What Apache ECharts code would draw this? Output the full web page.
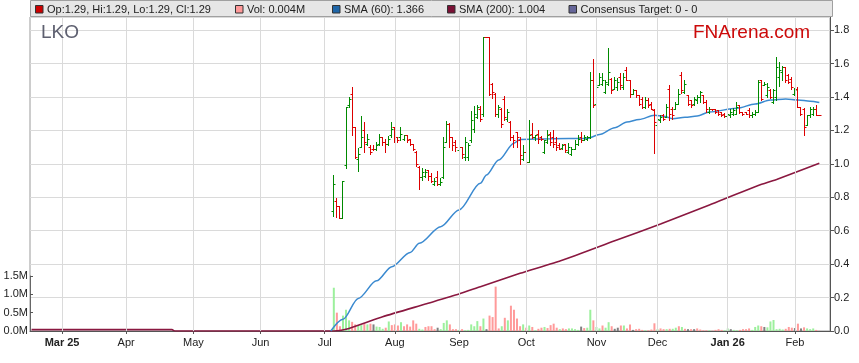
<!DOCTYPE html>
<html><head><meta charset="utf-8">
<script src="https://cdn.jsdelivr.net/npm/echarts@6.0.0/dist/echarts.min.js"></script>
<style>html,body{margin:0;padding:0;background:#fff}#c{width:859px;height:363px}</style>
</head><body><div id="c"></div>
<script>
// ---------- data ----------
const START_DATE = [2025, 1, 17];   // first weekday slot on the axis (17 Feb 2025)
const SLOT_COUNT = 262;             // weekday slots on the axis
const PRICE_START = 99;             // slot of first traded day (Jul 2025)
const tickLabels = ['Mar 25','Apr','May','Jun','Jul','Aug','Sep','Oct','Nov','Dec','Jan 26','Feb'];
const boldLabels = ['Mar 25','Jan 26'];
const priceTicks = [0,0.2,0.4,0.6,0.8,1.0,1.2,1.4,1.6,1.8];
const volumeTicks = ['0.0M','0.5M','1.0M','1.5M'];

// [open, high, low, close]
const ohlc = [
 [0.72,0.934,0.686,0.88],[0.78,0.793,0.684,0.745],[0.745,0.745,0.676,0.676],[0.676,0.895,0.676,0.895],[0.99,1.342,0.975,1.34],
 [1.35,1.40,1.34,1.39],[1.42,1.457,1.173,1.22],[1.22,1.223,1.034,1.04],[1.03,1.093,0.954,1.06],[1.10,1.287,1.10,1.16],
 [1.20,1.25,1.07,1.13],[1.12,1.18,1.11,1.15],[1.10,1.11,1.06,1.07],[1.09,1.11,1.08,1.09],[1.09,1.13,1.08,1.11],
 [1.12,1.177,1.113,1.16],[1.16,1.163,1.113,1.13],[1.13,1.15,1.07,1.12],[1.12,1.167,1.113,1.15],[1.17,1.25,1.163,1.21],
 [1.22,1.223,1.133,1.16],[1.16,1.163,1.133,1.14],[1.16,1.22,1.14,1.18],[1.15,1.17,1.14,1.17],[1.17,1.17,1.13,1.14],
 [1.15,1.15,1.11,1.12],[1.12,1.12,1.085,1.09],[1.07,1.074,0.984,1.00],[0.98,0.984,0.849,0.92],[0.92,0.974,0.905,0.95],
 [0.93,0.968,0.924,0.95],[0.96,0.964,0.905,0.93],[0.93,0.944,0.894,0.90],[0.88,0.915,0.875,0.90],[0.92,0.954,0.875,0.88],
 [0.88,0.914,0.875,0.89],[0.92,1.163,0.914,1.10],[1.13,1.253,1.133,1.24],[1.24,1.247,1.10,1.16],[1.16,1.163,1.08,1.11],
 [1.13,1.143,1.074,1.10],[1.08,1.107,1.054,1.10],[1.10,1.10,1.034,1.06],[1.04,1.163,1.024,1.13],[1.04,1.123,1.023,1.11],
 [1.14,1.313,1.133,1.26],[1.21,1.343,1.193,1.30],[1.28,1.353,1.273,1.34],[1.33,1.343,1.253,1.27],[1.30,1.76,1.283,1.76],
 [1.76,1.76,1.76,1.76],[1.76,1.76,1.41,1.42],[1.48,1.483,1.393,1.43],[1.42,1.423,1.283,1.30],[1.30,1.35,1.28,1.34],
 [1.33,1.333,1.223,1.24],[1.39,1.403,1.263,1.28],[1.27,1.325,1.253,1.31],[1.25,1.253,1.143,1.16],[1.16,1.17,1.10,1.14],
 [1.19,1.193,1.10,1.16],[1.14,1.163,1.00,1.05],[1.03,1.113,1.024,1.07],[1.07,1.074,0.994,1.01],[1.01,1.263,1.01,1.17],
 [1.18,1.243,1.153,1.16],[1.16,1.17,1.143,1.17],[1.18,1.203,1.127,1.15],[1.16,1.165,1.14,1.15],[1.07,1.143,1.064,1.14],
 [1.13,1.203,1.123,1.17],[1.18,1.193,1.113,1.13],[1.16,1.203,1.10,1.12],[1.13,1.163,1.084,1.10],[1.11,1.123,1.09,1.09],
 [1.095,1.12,1.09,1.11],[1.12,1.12,1.068,1.08],[1.07,1.123,1.064,1.10],[1.06,1.10,1.054,1.09],[1.09,1.143,1.09,1.12],
 [1.12,1.173,1.113,1.15],[1.16,1.193,1.133,1.14],[1.14,1.173,1.14,1.16],[1.15,1.165,1.145,1.16],[1.16,1.551,1.153,1.50],
 [1.50,1.625,1.342,1.35],[1.36,1.472,1.352,1.46],[1.47,1.541,1.47,1.52],[1.48,1.541,1.472,1.50],[1.43,1.501,1.422,1.49],
 [1.48,1.691,1.472,1.55],[1.51,1.511,1.422,1.44],[1.45,1.521,1.446,1.50],[1.46,1.511,1.442,1.49],[1.52,1.545,1.446,1.47],
 [1.46,1.545,1.446,1.52],[1.56,1.577,1.50,1.50],[1.50,1.501,1.402,1.42],[1.42,1.446,1.418,1.44],[1.44,1.442,1.402,1.41],
 [1.41,1.412,1.352,1.36],[1.39,1.402,1.332,1.34],[1.34,1.402,1.332,1.38],[1.38,1.392,1.342,1.35],[1.36,1.37,1.33,1.33],
 [1.32,1.326,1.066,1.25],[1.23,1.279,1.219,1.27],[1.26,1.29,1.25,1.28],[1.29,1.30,1.26,1.27],[1.28,1.36,1.28,1.34],
 [1.45,1.471,1.262,1.30],[1.33,1.34,1.27,1.29],[1.33,1.37,1.33,1.36],[1.36,1.445,1.36,1.42],[1.53,1.551,1.421,1.44],
 [1.43,1.501,1.421,1.48],[1.41,1.411,1.351,1.36],[1.38,1.381,1.341,1.35],[1.36,1.401,1.351,1.39],[1.38,1.411,1.361,1.40],
 [1.40,1.437,1.371,1.43],[1.41,1.411,1.361,1.37],[1.37,1.381,1.311,1.33],[1.31,1.337,1.301,1.325],[1.33,1.33,1.32,1.325],
 [1.325,1.325,1.301,1.31],[1.32,1.321,1.292,1.30],[1.31,1.311,1.288,1.29],[1.30,1.301,1.282,1.285],[1.285,1.321,1.282,1.30],
 [1.29,1.325,1.282,1.31],[1.30,1.331,1.292,1.32],[1.30,1.371,1.298,1.34],[1.35,1.351,1.301,1.31],[1.31,1.311,1.292,1.30],
 [1.31,1.311,1.298,1.30],[1.32,1.331,1.282,1.29],[1.29,1.311,1.282,1.30],[1.30,1.321,1.292,1.31],[1.31,1.501,1.311,1.49],
 [1.50,1.501,1.381,1.39],[1.47,1.491,1.471,1.48],[1.41,1.481,1.401,1.46],[1.44,1.445,1.391,1.40],[1.37,1.445,1.361,1.44],
 [1.40,1.637,1.381,1.58],[1.52,1.611,1.465,1.56],[1.55,1.585,1.50,1.58],[1.58,1.581,1.491,1.50],[1.53,1.537,1.481,1.49],
 [1.51,1.521,1.445,1.46],[1.42,1.451,1.411,1.44],[1.45,1.461,1.34,1.34],[1.34,1.341,1.292,1.30],[1.33,1.331,1.172,1.22],
 [1.23,1.292,1.23,1.29],[1.29,1.337,1.282,1.33],[1.30,1.337,1.292,1.33],[1.33,1.351,1.29,1.29],[1.29,1.29,1.29,1.29]
];

// volume in millions, same days as ohlc
const volumes = [
 1.18,0.50,0.13,0.42,0.58,0.29,0.25,0.18,0.16,0.16,
 0.20,0.18,0.20,0.18,0.12,0.11,0.06,0.09,0.26,0.16,
 0.18,0.15,0.24,0.13,0.18,0.12,0.29,0.20,0.06,0.04,
 0.11,0.13,0.13,0.05,0.09,0.05,0.22,0.29,0.18,0.05,
 0.05,0.03,0.05,0.02,0.03,0.18,0.13,0.27,0.13,0.34,
 0.05,0.42,0.38,1.21,0.07,0.13,0.36,0.29,0.69,0.58,
 0.34,0.13,0.18,0.09,0.15,0.11,0.02,0.06,0.09,0.11,
 0.08,0.16,0.20,0.09,0.05,0.07,0.05,0.07,0.07,0.05,
 0.03,0.12,0.08,0.09,0.58,0.29,0.11,0.07,0.15,0.09,
 0.24,0.13,0.06,0.09,0.15,0.15,0.07,0.18,0.03,0.05,
 0.06,0.03,0.02,0.02,0.04,0.21,0.05,0.07,0.05,0.05,
 0.06,0.06,0.09,0.13,0.11,0.06,0.05,0.05,0.05,0.07,
 0.04,0.02,0.02,0.02,0.01,0.03,0.05,0.03,0.02,0.07,
 0.05,0.03,0.02,0.03,0.05,0.05,0.07,0.03,0.11,0.15,
 0.13,0.11,0.10,0.26,0.30,0.05,0.06,0.04,0.06,0.11,
 0.09,0.08,0.20,0.07,0.10,0.07,0.05,0.07,0.03,0.004
];
// g = up day, r = down day, n = unchanged
const volumeDir = ('grrgggrrgg'+'rgrngggrgr'+'rrgrrrrrgg'+'rrrrngggrr'+'rgrgggggrg'+'nrrrrgrgrr'+
  'rrgrgrgrrg'+'rrrrgrrggg'+'gnrggrggrg'+'grnnrgrrnr'+'rrgrrrgrrg'+'rggrgrnrnr'+'rrrgrrrrgg'+
  'nggrrrrggg'+'rnggggggrr'+'rnrnrgggrr').split('');

// [slot, value]
const sma60Points = [[98,0],[102,0.07],[107,0.195],[113,0.30],[118,0.385],[124,0.47],[127,0.525],[134,0.624],
  [140,0.724],[147,0.883],[149,0.933],[153,1.023],[158,1.123],[160,1.146],[170,1.15],[182,1.152],[186,1.175],
  [191,1.216],[195,1.25],[199,1.265],[204,1.29],[207,1.285],[210,1.27],[214,1.278],[218,1.286],[222,1.31],
  [231,1.332],[237,1.358],[242,1.382],[247,1.388],[251,1.382],[255,1.374],[258,1.366]];
const sma200Points = [[0,0.008],[46,0.008],[47,0],[99,0],[103,0.01],[115,0.085],[129,0.161],[140,0.221],
  [147,0.265],[160,0.345],[174,0.425],[191,0.54],[206,0.64],[222,0.754],[238,0.87],[244,0.906],[258,1.004]];

// ---------- build ----------
const categories = [];
{
  const d = new Date(Date.UTC(START_DATE[0], START_DATE[1], START_DATE[2]));
  while (categories.length < SLOT_COUNT) {
    const wd = d.getUTCDay();
    if (wd > 0 && wd < 6) categories.push(d.toISOString().slice(0, 10));
    d.setUTCDate(d.getUTCDate() + 1);
  }
}
const monthStart = {};
{
  let k = 0;
  for (let i = 1; i < categories.length; i++) {
    if (categories[i].slice(5, 7) !== categories[i - 1].slice(5, 7) && k < tickLabels.length) monthStart[i] = tickLabels[k++];
  }
}
const isMonthStart = (i) => Object.prototype.hasOwnProperty.call(monthStart, i);

const FONT = '"Liberation Sans", Arial, sans-serif';
const FS = 11;
const ohlcData = ohlc.map((r, k) => [PRICE_START + k, r[0], r[1], r[2], r[3]]);
const volColors = { g: '#9cf09c', r: '#ff9a9a', n: '#808080' };
const volData = volumes.map((v, k) => ({ value: [PRICE_START + k, v], itemStyle: { color: volColors[volumeDir[k]] } }));

const legendItems = [
  { x: 35, color: '#cc0000', text: 'Op:1.29, Hi:1.29, Lo:1.29, Cl:1.29' },
  { x: 235, color: '#ff9999', text: 'Vol: 0.004M' },
  { x: 332, color: '#1f66a8', text: 'SMA (60): 1.366' },
  { x: 447, color: '#7a1035', text: 'SMA (200): 1.004' },
  { x: 568.5, color: '#666699', text: 'Consensus Target: 0 - 0' }
];
const graphics = [
  { type: 'rect', z: 10, shape: { x: 30.5, y: 0.5, width: 802, height: 16 }, style: { fill: '#e6e6e6', stroke: '#a0a0a0', lineWidth: 1 } }
];
legendItems.forEach(it => {
  graphics.push({ type: 'rect', z: 11, shape: { x: it.x + 0.5, y: 5.5, width: 7.5, height: 7.5 }, style: { fill: it.color, stroke: '#333', lineWidth: 1 } });
  graphics.push({ type: 'text', z: 11, x: it.x + 12, y: 10, style: { text: it.text, font: FS + 'px ' + FONT, fill: '#222', verticalAlign: 'middle', textVerticalAlign: 'middle' } });
});
graphics.push({ type: 'text', z: 11, x: 41, y: 33, style: { text: 'LKO', font: '19px ' + FONT, fill: '#5e6070', verticalAlign: 'middle', textVerticalAlign: 'middle' } });
graphics.push({ type: 'text', z: 11, x: 693, y: 33, style: { text: 'FNArena.com', font: '19px ' + FONT, fill: '#cc0a0a', verticalAlign: 'middle', textVerticalAlign: 'middle' } });

const chart = echarts.init(document.getElementById('c'), null, { renderer: 'canvas' });
chart.setOption({
  animation: false,
  textStyle: { fontFamily: FONT },
  graphic: graphics,
  grid: [
    { left: 30, right: 29, top: 17, bottom: 32, show: true, borderColor: '#9a9a9a', borderWidth: 1, backgroundColor: 'transparent' },
    { left: 30, right: 29, top: 276, bottom: 32 }
  ],
  xAxis: [
    {
      type: 'category', gridIndex: 0, data: categories, boundaryGap: true,
      axisLine: { show: true, lineStyle: { color: '#555' } },
      axisTick: { show: true, interval: (i) => isMonthStart(i), alignWithLabel: true, length: 3, lineStyle: { color: '#555' } },
      axisLabel: {
        interval: (i) => isMonthStart(i), margin: 6, fontSize: FS, color: '#222', fontFamily: FONT,
        formatter: (v, i) => { const t = monthStart[i]; return boldLabels.includes(t) ? '{b|' + t + '}' : t; },
        rich: { b: { fontWeight: 'bold', fontSize: FS, color: '#222', fontFamily: FONT } }
      },
      splitLine: { show: false }
    },
    { type: 'category', gridIndex: 1, data: categories, boundaryGap: true, show: false }
  ],
  yAxis: [
    {
      type: 'value', gridIndex: 0, position: 'right', min: 0, max: 1.878, interval: 0.2,
      axisLine: { show: true, lineStyle: { color: '#555' } },
      axisTick: { show: true, length: 4, lineStyle: { color: '#555' } },
      axisLabel: {
        margin: 4, fontSize: FS, color: '#222', fontFamily: FONT, showMaxLabel: false,
        formatter: (v) => { const t = priceTicks.find(p => Math.abs(p - v) < 1e-6); return t === undefined ? '' : t.toFixed(1); }
      },
      splitLine: { show: true, lineStyle: { color: '#dadada', width: 1 } }
    },
    {
      type: 'value', gridIndex: 1, position: 'left', min: 0, max: 1.5, interval: 0.5,
      axisLine: { show: true, lineStyle: { color: '#666' } },
      axisTick: { show: true, inside: true, length: 3, lineStyle: { color: '#555' } },
      axisLabel: { margin: 2, fontSize: FS, color: '#222', fontFamily: FONT, formatter: (v) => volumeTicks[Math.round(v / 0.5)] || '' },
      splitLine: { show: false }
    }
  ],
  series: [
    {
      name: 'gridlines', type: 'line', xAxisIndex: 0, yAxisIndex: 0, z: 1, silent: true,
      data: sma200Points, showSymbol: false, lineStyle: { opacity: 0 },
      markLine: {
        silent: true, symbol: ['none', 'none'], label: { show: false }, animation: false,
        lineStyle: { color: '#dadada', type: 'solid', width: 1 },
        emphasis: { disabled: true },
        data: Object.keys(monthStart).map(i => ({ xAxis: categories[+i] }))
      }
    },
    {
      name: 'Vol', type: 'bar', xAxisIndex: 1, yAxisIndex: 1, z: 2, barWidth: 2,
      data: volData
    },
    {
      name: 'SMA (200)', type: 'line', xAxisIndex: 0, yAxisIndex: 0, z: 3, data: sma200Points,
      showSymbol: false, smooth: 0.2, lineStyle: { color: '#8a1840', width: 1.6 }
    },
    {
      name: 'SMA (60)', type: 'line', xAxisIndex: 0, yAxisIndex: 0, z: 3, data: sma60Points,
      showSymbol: false, smooth: 0.3, smoothMonotone: 'x', lineStyle: { color: '#3b8ad0', width: 1.5 }
    },
    {
      name: 'Price', type: 'custom', xAxisIndex: 0, yAxisIndex: 0, z: 4,
      data: ohlcData, encode: { x: 0, y: [1, 2, 3, 4] },
      renderItem: (params, api) => {
        const i = api.value(0), o = api.value(1), h = api.value(2), l = api.value(3), c = api.value(4);
        const pH = api.coord([i, h]), pL = api.coord([i, l]), pO = api.coord([i, o]), pC = api.coord([i, c]);
        const color = c > o ? '#008a00' : '#dd0000';
        const x = Math.floor(pH[0]) + 0.5;
        const yO = Math.round(pO[1]) + 0.5, yC = Math.round(pC[1]) + 0.5;
        const st = { stroke: color, lineWidth: 1 };
        return {
          type: 'group', children: [
            { type: 'line', shape: { x1: x, y1: Math.round(pH[1]), x2: x, y2: Math.round(pL[1]) + 1 }, style: st },
            { type: 'line', shape: { x1: x - 2, y1: yO, x2: x, y2: yO }, style: st },
            { type: 'line', shape: { x1: x, y1: yC, x2: x + 2, y2: yC }, style: st }
          ]
        };
      }
    }
  ]
});
</script>
</body></html>
